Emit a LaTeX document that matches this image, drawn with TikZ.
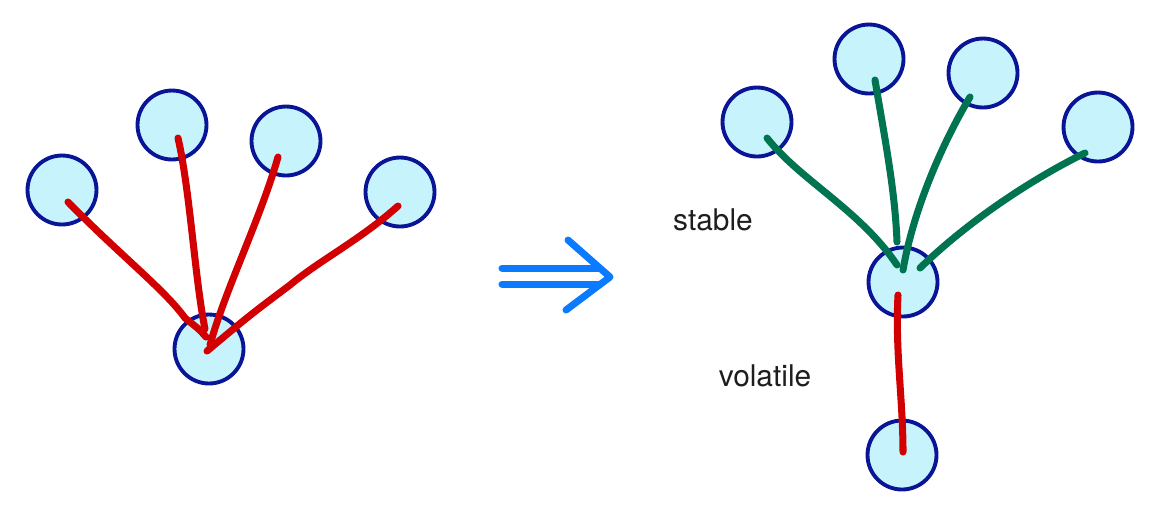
\documentclass[tikz,border=0pt]{standalone}
\usepackage{fontspec}
\setmainfont{TeX Gyre Heros}
\begin{document}
\begin{tikzpicture}[x=0.02cm,y=-0.02cm,
  ball/.style={circle,draw={rgb,255:red,10;green,20;blue,150},fill={rgb,255:red,198;green,243;blue,252},line width=2.2pt,minimum size=1.38cm,inner sep=0pt},
  redl/.style={draw={rgb,255:red,210;green,0;blue,0},line width=4pt,line cap=round},
  grnl/.style={draw={rgb,255:red,0;green,115;blue,80},line width=4pt,line cap=round},
  lbl/.style={font=\fontsize{17}{20}\selectfont,text={rgb,255:red,30;green,30;blue,30}}]
\useasboundingbox (0,0) rectangle (1151,512);
% left
\node[ball] (a1) at (62,190) {};
\node[ball] (a2) at (172,125) {};
\node[ball] (a3) at (286,141) {};
\node[ball] (a4) at (400,192) {};
\node[ball] (b) at (209,349) {};
\draw[redl] ([shift={(6,12)}]a1.center) .. controls (120,255) and (165,290) .. (185,318) .. controls (200,330) .. ([shift={(-3,-12)}]b.center);
\draw[redl] ([shift={(6,13)}]a2.center) .. controls (190,190) and (195,280) .. ([shift={(-4,-20)}]b.center);
\draw[redl] ([shift={(-8,16)}]a3.center) .. controls (260,220) and (225,290) .. ([shift={(1,-4)}]b.center);
\draw[redl] ([shift={(-2,14)}]a4.center) .. controls (360,240) and (320,260) .. (290,285) .. controls (250,315) .. ([shift={(-2,2)}]b.center);
% arrow
\begin{scope}[draw={rgb,255:red,10;green,122;blue,255},line width=4pt,line cap=round,line join=round]
\draw (502,268) -- (600,268);
\draw (502,284) -- (600,284);
\draw (568,240) -- (610,277) -- (566,310);
\end{scope}
% right
\node[ball] (c1) at (757,122) {};
\node[ball] (c2) at (869,59) {};
\node[ball] (c3) at (983,73) {};
\node[ball] (c4) at (1098,127) {};
\node[ball] (d) at (903,282) {};
\node[ball] (e) at (902,455) {};
\draw[grnl] ([shift={(10,16)}]c1.center) .. controls (800,180) and (860,210) .. ([shift={(-6,-17)}]d.center);
\draw[grnl] ([shift={(6,21)}]c2.center) .. controls (885,140) and (895,190) .. ([shift={(-6,-40)}]d.center);
\draw[grnl] ([shift={(-13,24)}]c3.center) .. controls (950,130) and (915,200) .. ([shift={(0,-12)}]d.center);
\draw[grnl] ([shift={(-13,26)}]c4.center) .. controls (1050,170) and (980,210) .. ([shift={(17,-14)}]d.center);
\draw[redl] ([shift={(-5,13)}]d.center) .. controls (895,350) and (903,400) .. ([shift={(1,-3)}]e.center);
\node[lbl] (s) at (713,220) {stable};
\node[lbl] (v) at (765,376) {volatile};
\end{tikzpicture}
\end{document}
